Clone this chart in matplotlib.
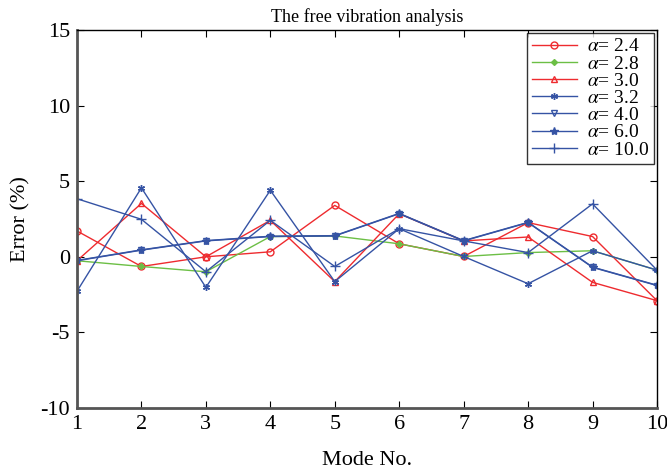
import matplotlib
matplotlib.use("Agg")
import matplotlib.pyplot as plt

modes = [1, 2, 3, 4, 5, 6, 7, 8, 9, 10]
labels = ["2.4", "2.8", "3.0", "3.2", "4.0", "6.0", "10.0"]

err_24 = [1.71, -0.64, 0.0, 0.33, 3.4, 0.86, 0.02, 2.26, 1.34, -2.9]
err_28 = [-0.26, -0.64, -0.99, 1.34, 1.38, 0.86, 0.02, 0.28, 0.4, -0.88]
err_30 = [-0.26, 3.53, 0.0, 2.41, -1.64, 2.85, 1.05, 1.31, -1.69, -2.9]
err_32 = [-2.28, 4.56, -2.02, 4.4, -1.64, 1.86, 0.02, -1.78, 0.4, -0.88]
err_40 = [-0.26, 0.44, 1.05, 1.34, 1.38, 2.85, 1.05, 2.26, -0.7, -1.9]
err_60 = [-0.24, 0.46, 1.07, 1.36, 1.40, 2.87, 1.07, 2.28, -0.68, -1.88]
err_100 = [3.84, 2.48, -0.99, 2.41, -0.64, 1.86, 1.05, 0.28, 3.5, -0.88]

series = [err_24, err_28, err_30, err_32, err_40, err_60, err_100]

red = "#ee2b2f"
green = "#6cbf45"
blue = "#3553a4"
styles = [
    dict(color=red, marker="o", mfc="none", ms=5),
    dict(color=green, marker="D", mfc=green, ms=3),
    dict(color=red, marker="^", mfc="none", ms=5),
    dict(color=blue, marker=(6, 2, 0), ms=5),
    dict(color=blue, marker="v", mfc="none", ms=5),
    dict(color=blue, marker="*", mfc=blue, ms=6),
    dict(color=blue, marker="+", ms=7),
]

plt.rcParams["font.family"] = "Liberation Serif"
plt.rcParams["mathtext.fontset"] = "stix"
plt.rcParams["axes.unicode_minus"] = False

fig = plt.figure(figsize=(6.67, 4.73), dpi=100)
ax = fig.add_axes([0.1154, 0.1374, 0.8696, 0.7992])

for vals, lab, st in zip(series, labels, styles):
    ax.plot(modes, vals, lw=1.0, mew=1.0, label=r"$\alpha$= " + lab, **st)

ax.set_xlim(1, 10)
ax.set_ylim(-10, 15)
ax.set_xticks(modes)
ax.set_yticks([-10, -5, 0, 5, 10, 15])
ax.tick_params(direction="in", top=True, right=True, labelsize=16, length=5, pad=5)
for s in ax.spines.values():
    s.set_linewidth(1.0)
ax.spines["left"].set_color("#555555")
ax.spines["left"].set_linewidth(2.0)
ax.spines["bottom"].set_color("#555555")
ax.spines["bottom"].set_linewidth(2.0)

ax.set_xlabel("Mode No.", fontsize=16, labelpad=12)
ax.set_ylabel("Error (%)", fontsize=16, labelpad=7)
ax.set_title("The free vibration analysis", fontsize=13, pad=6)

leg = ax.legend(loc="upper right", fontsize=14, frameon=True, fancybox=False,
                edgecolor="black", borderpad=0.25, labelspacing=-0.02,
                handlelength=2.3, handletextpad=0.55, borderaxespad=0.15)
leg.get_frame().set_linewidth(1.0)

fig.savefig("out.png", dpi=100)
